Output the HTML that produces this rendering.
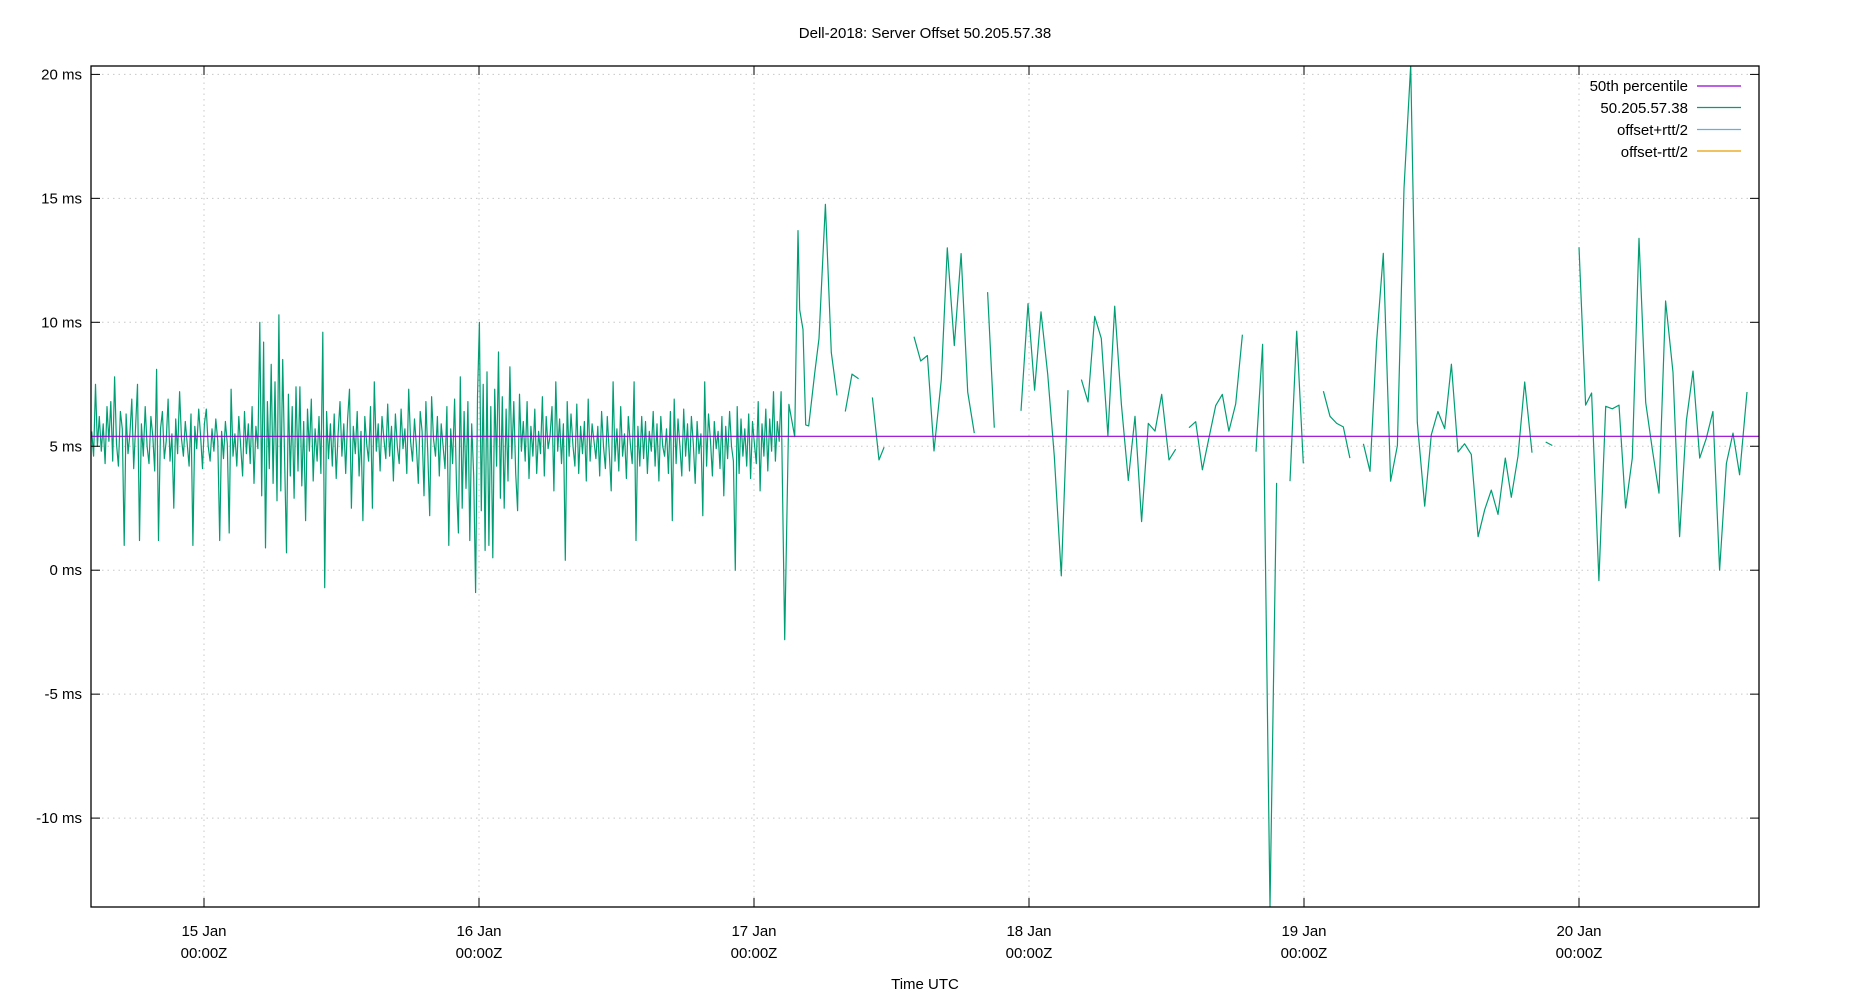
<!DOCTYPE html>
<html><head><meta charset="utf-8"><title>Dell-2018: Server Offset 50.205.57.38</title>
<style>
html,body{margin:0;padding:0;background:#fff;}
svg{display:block;font-family:"Liberation Sans","DejaVu Sans",sans-serif;}
</style></head>
<body>
<svg id="chart" width="1850" height="1000" viewBox="0 0 1850 1000" xmlns="http://www.w3.org/2000/svg">
<rect x="0" y="0" width="1850" height="1000" fill="#fff"/>
<text x="925" y="38" text-anchor="middle" font-size="15" fill="#000">Dell-2018: Server Offset 50.205.57.38</text>
<g id="grid"></g>
<g id="series"></g>
<g id="axes"></g>
<text x="925" y="989" text-anchor="middle" font-size="15" fill="#000">Time UTC</text>
<g font-size="15" fill="#000">
 <g><text x="1688" y="91" text-anchor="end">50th percentile</text><line x1="1697" y1="86" x2="1741" y2="86" stroke="#9400d3" stroke-width="1.2"/></g>
 <g><text x="1688" y="113" text-anchor="end">50.205.57.38</text><line x1="1697" y1="107.5" x2="1741" y2="107.5" stroke="#009e73" stroke-width="1.2"/></g>
 <g><text x="1688" y="135" text-anchor="end">offset+rtt/2</text><line x1="1697" y1="129.5" x2="1741" y2="129.5" stroke="#56b4e9" stroke-width="1.2"/></g>
 <g><text x="1688" y="157" text-anchor="end">offset-rtt/2</text><line x1="1697" y1="151" x2="1741" y2="151" stroke="#e69f00" stroke-width="1.2"/></g>
</g>
</svg>
<script>
// ---- data (hours since 15 Jan 00:00Z, values in ms) ----
const yTicks = [-10, -5, 0, 5, 10, 15, 20];
const yTickLabels = ["-10 ms", "-5 ms", "0 ms", "5 ms", "10 ms", "15 ms", "20 ms"];
const xTicks = [0, 24, 48, 72, 96, 120];
const xTickDates = ["15 Jan", "16 Jan", "17 Jan", "18 Jan", "19 Jan", "20 Jan"];
const xTickTimes = ["00:00Z", "00:00Z", "00:00Z", "00:00Z", "00:00Z", "00:00Z"];
const medianValue = 5.4;
const denseStart = -9.8;
const denseStep = 1 / 6;
const denseValues = [
5.6,4.6,7.5,5.0,6.2,4.8, 5.9,4.3,6.6,5.2,6.8,4.4, 7.8,5.1,4.2,6.4,5.7,1.0, 6.3,4.7,5.5,6.9,4.1,5.8,
7.5,1.2,5.9,4.6,6.6,5.0, 4.3,6.2,5.4,4.0,8.1,1.2, 5.7,6.4,4.5,5.2,6.9,4.4, 5.5,2.5,6.1,4.7,7.2,5.3,
4.6,6.0,5.1,4.2,6.3,1.0, 5.8,4.9,6.5,5.4,4.1,5.9, 6.5,5.0,4.4,5.7,4.8,6.1, 5.2,1.2,5.6,4.5,6.0,5.1,
1.5,7.3,4.6,5.5,4.2,6.2, 5.0,3.8,6.4,4.7,5.9,4.3, 6.6,3.5,5.8,4.9,10.0,3.0, 9.2,0.9,6.8,4.1,8.3,3.5,
7.6,2.8,10.3,3.2,8.5,4.5, 0.7,7.1,3.8,6.6,2.9,7.4, 4.0,7.4,3.4,6.0,2.0,6.5, 4.8,6.9,3.6,5.7,4.4,6.2,
3.9,9.6,-0.7,6.4,4.5,5.9, 4.2,6.3,3.7,5.5,6.8,4.6, 5.9,3.9,6.1,7.3,2.5,5.8, 4.7,6.4,3.8,5.6,2.0,6.2,
5.1,4.4,6.6,2.5,7.6,4.8, 5.9,4.0,6.2,5.3,4.5,6.7, 4.6,5.8,3.6,6.3,5.0,4.3, 6.5,4.9,5.7,3.9,7.3,5.2,
4.4,6.1,5.0,3.5,6.4,5.6, 3.0,6.8,4.7,2.2,7.0,5.3, 4.6,6.2,3.8,5.9,5.0,4.1, 6.6,1.0,5.7,4.3,6.9,3.4,
1.5,7.8,2.5,6.4,3.3,6.8, 1.2,5.9,3.8,-0.9,7.0,10.0, 2.4,7.5,0.8,8.0,1.0,6.6, 0.5,7.3,4.2,8.8,2.9,7.0,
2.5,6.5,3.6,8.2,4.5,6.8, 3.9,2.4,7.1,4.8,6.0,4.4, 6.8,3.7,5.8,4.6,6.5,3.9, 5.6,4.7,7.0,3.8,6.2,4.9,
5.4,6.6,3.2,7.6,4.8,6.1, 4.3,5.9,0.4,6.8,4.6,6.3, 5.0,4.2,6.7,3.9,5.8,4.7, 6.0,3.6,6.9,4.4,5.9,5.2,
4.5,5.8,3.8,6.4,5.0,4.1, 6.2,4.8,3.2,7.6,4.4,5.7, 4.0,6.6,4.6,5.5,3.7,6.2, 5.1,4.3,7.6,1.2,5.8,4.2,
6.2,4.5,6.0,3.9,5.6,4.8, 6.4,4.2,5.9,3.6,6.2,5.0, 4.6,5.7,3.9,6.4,2.0,6.9, 4.3,6.1,5.0,3.8,6.5,4.6,
5.9,4.0,6.2,5.1,3.5,6.0, 4.7,5.5,2.2,7.6,4.2,6.3, 5.2,3.8,6.0,4.9,5.6,4.1, 6.2,3.0,5.8,4.5,6.4,5.0,
4.4,0.0,6.6,3.9,6.1,4.6, 5.7,4.2,6.3,3.7,6.0,5.1, 4.3,6.8,3.2,5.9,4.6,6.5, 4.0,6.1,4.8,7.2,4.4,6.0,
5.2,7.2
];
// sparse section: null marks a break in the line
const sparseTimes = [
50.68,51.05,51.55,51.84,51.99,52.28,52.51,52.77,53.29,53.67,54.23,54.75,55.24,null,
55.97,56.55,57.13,null,
58.33,58.91,59.35,null,
61.96,62.55,63.13,63.71,64.35,64.87,65.48,66.07,66.65,67.23,null,
68.39,68.97,null,
71.30,71.91,72.49,73.05,73.63,74.21,74.82,75.40,null,
76.57,77.15,77.73,78.31,78.89,79.48,80.06,80.67,81.25,81.83,82.41,83.00,83.58,84.22,84.80,null,
85.96,86.55,87.13,87.71,88.29,88.87,89.45,90.04,90.62,null,
91.81,92.39,93.03,93.61,null,
94.78,95.36,95.94,null,
97.69,98.27,98.85,99.43,100.01,null,
101.18,101.76,102.34,102.92,103.56,104.15,104.73,105.31,105.89,106.53,107.11,107.69,108.28,108.86,109.44,110.02,110.60,111.19,111.77,112.35,112.93,113.57,114.09,114.68,115.26,115.90,null,
117.09,117.67,null,
120.00,120.58,121.10,121.74,122.33,122.91,123.49,124.07,124.65,125.24,125.82,126.40,126.98,127.56,128.20,128.78,129.37,129.95,130.53,131.11,131.69,132.27,132.86,133.44,134.02,134.66
];
const sparseValues = [
-2.8,6.69,5.39,13.70,10.50,9.71,5.86,5.82,7.91,9.35,14.76,8.78,7.05,null,
6.40,7.91,7.72,null,
6.97,4.45,4.96,null,
9.42,8.44,8.66,4.81,7.69,13.00,9.06,12.77,7.19,5.53,null,
11.22,5.75,null,
6.43,10.75,7.26,10.42,7.91,4.60,-0.23,7.26,null,
7.69,6.79,10.24,9.35,5.43,10.65,6.69,3.62,6.21,1.96,5.92,5.61,7.09,4.45,4.88,null,
5.75,5.99,4.05,5.35,6.64,7.09,5.61,6.71,9.50,null,
4.78,9.11,-13.6,3.52,null,
3.59,9.64,4.31,null,
7.22,6.21,5.92,5.78,4.52,null,
5.10,3.99,9.21,12.78,3.59,5.03,15.40,20.37,5.97,2.58,5.46,6.40,5.71,8.31,4.77,5.10,4.67,1.35,2.44,3.23,2.25,4.52,2.94,4.60,7.59,4.74,null,
5.17,5.03,null,
13.03,6.66,7.15,-0.42,6.61,6.51,6.66,2.51,4.52,13.39,6.76,4.88,3.11,10.86,7.98,1.35,6.04,8.03,4.52,5.32,6.40,0.0,4.31,5.53,3.85,7.19
];

// ---- geometry ----
const L = 91, R = 1759, T = 66, B = 907;
const X0 = 204, PXH = 275 / 24;      // 15 Jan 00:00 at x=204, 275px/day
const Y0 = 570.2, PXMS = 24.79;      // 0 ms at y=570.2
function xs(h) { return X0 + h * PXH; }
function ys(v) { return Y0 - v * PXMS; }
const NS = "http://www.w3.org/2000/svg";
function mk(tag, attrs, parent) {
  const e = document.createElementNS(NS, tag);
  for (const k in attrs) e.setAttribute(k, attrs[k]);
  parent.appendChild(e);
  return e;
}
const grid = document.getElementById("grid");
const axes = document.getElementById("axes");
const series = document.getElementById("series");

// grid + ticks
yTicks.forEach((v, i) => {
  const y = ys(v);
  const g = mk("line", {x1: L, x2: R, y1: y, y2: y, stroke: "#c8c8c8", "stroke-width": 1, "stroke-dasharray": "1.5,4"}, grid);
  
  
  const t1 = mk("line", {x1: L, x2: L + 9, y1: y, y2: y, stroke: "#000", "stroke-width": 1}, axes);
  
  
  const t2 = mk("line", {x1: R - 9, x2: R, y1: y, y2: y, stroke: "#000", "stroke-width": 1}, axes);
  
  
  const lb = mk("text", {x: 82, y: y + 5, "text-anchor": "end", "font-size": 15, fill: "#000"}, axes);
  lb.textContent = yTickLabels[i];
  
  
});
xTicks.forEach((h, i) => {
  const x = xs(h);
  const g = mk("line", {x1: x, x2: x, y1: T, y2: B, stroke: "#c8c8c8", "stroke-width": 1, "stroke-dasharray": "1.5,4"}, grid);
  
  
  const t1 = mk("line", {x1: x, x2: x, y1: B - 9, y2: B, stroke: "#000", "stroke-width": 1}, axes);
  
  
  const t2 = mk("line", {x1: x, x2: x, y1: T, y2: T + 9, stroke: "#000", "stroke-width": 1}, axes);
  
  
  const a = mk("text", {x: x, y: 936, "text-anchor": "middle", "font-size": 15, fill: "#000"}, axes);
  a.textContent = xTickDates[i];
  
  
  const b = mk("text", {x: x, y: 958, "text-anchor": "middle", "font-size": 15, fill: "#000"}, axes);
  b.textContent = xTickTimes[i];
  
  
});
const border = mk("rect", {x: L, y: T, width: R - L, height: B - T, fill: "none", stroke: "#000", "stroke-width": 1.3}, axes);



// clip
const defs = mk("defs", {}, series);
const cp = mk("clipPath", {id: "plotclip"}, defs);
mk("rect", {x: L, y: T, width: R - L, height: B - T}, cp);
series.setAttribute("clip-path", "url(#plotclip)");

// offset series: dense part
let d = "";
denseValues.forEach((v, i) => {
  const t = denseStart + i * denseStep;
  d += (i === 0 ? "M" : "L") + xs(t).toFixed(1) + "," + ys(v).toFixed(1);
});
// sparse part (first point connects from dense)
let pen = true;
sparseTimes.forEach((t, i) => {
  const v = sparseValues[i];
  if (t === null || v === null) { pen = false; return; }
  d += (pen ? "L" : "M") + xs(t).toFixed(1) + "," + ys(v).toFixed(1);
  pen = true;
});
const offLine = mk("path", {d: d, fill: "none", stroke: "#009e73", "stroke-width": 1.2, "stroke-linejoin": "round"}, series);



// median line
const med = mk("line", {x1: L, x2: R, y1: ys(medianValue), y2: ys(medianValue), stroke: "#9400d3", "stroke-width": 1.2}, series);


</script>
</body></html>
